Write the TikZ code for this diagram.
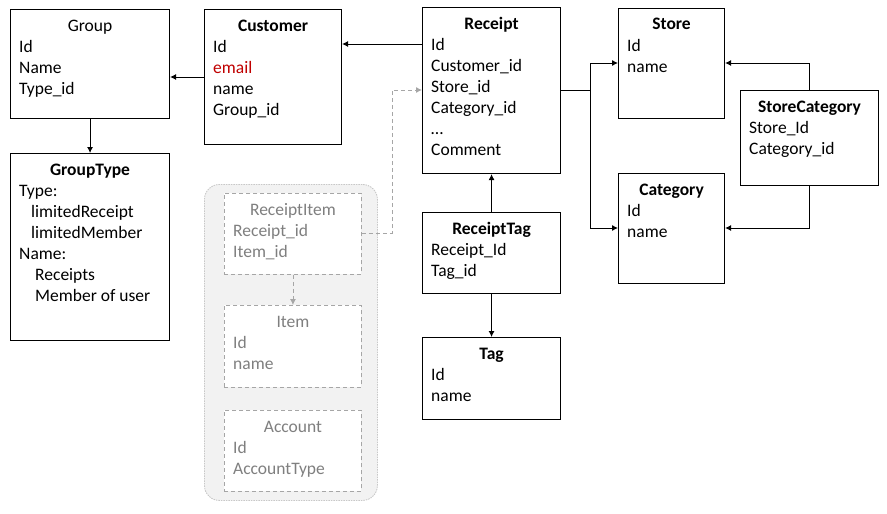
\documentclass[tikz,border=0pt]{standalone}
\usepackage{fontspec}
\setmainfont{Carlito}
\usetikzlibrary{arrows.meta}

\definecolor{fadegray}{HTML}{7F7F7F}
\definecolor{dashgray}{HTML}{A6A6A6}
\definecolor{framegray}{HTML}{C8C8C8}
\definecolor{panelgray}{HTML}{F2F2F2}
\definecolor{emailred}{HTML}{C00000}

% #1 style, #2 name, #3 x, #4 y, #5 width, #6 height, #7 title, #8 fields
\newcommand{\entity}[8]{%
  \node[#1,minimum width=#5,minimum height=#6,anchor=north west] (#2) at (#3,#4) {};
  \node[#1 text,anchor=base] (#2-title) at ([yshift=-22pt]#2.north) {#7};
  \foreach \fld [count=\i] in {#8}
    \node[#1 text,anchor=base west] (#2-\i) at ([xshift=9pt,yshift=-22pt-21pt*\i]#2.north west) {\fld};
}

\begin{document}
\begin{tikzpicture}[x=1pt,y=-1pt,
    every node/.style={inner sep=0pt,font=\fontsize{17.5pt}{21pt}\selectfont},
    box/.style={draw,line width=1.1pt,fill=white},
    box text/.style={},
    ghost/.style={draw=dashgray,line width=0.9pt,dash pattern=on 4pt off 3pt,fill=white},
    ghost text/.style={text=fadegray},
    link/.style={line width=0.9pt,-{Latex[length=6pt,width=6pt]}},
    ghost link/.style={draw=dashgray,line width=0.9pt,dash pattern=on 4pt off 3pt,-{Latex[length=6pt,width=6pt]}}]
    \useasboundingbox (0,0) rectangle (887,514);

    \node[draw=framegray,fill=panelgray,line width=0.9pt,dash pattern=on 1.5pt off 1pt,
          rounded corners=15pt,minimum width=173,minimum height=316,anchor=north west] (extras) at (204,184) {};

    \entity{box}{group}{10}{9}{159}{109}{Group}{Id,Name,Type\_id}
    \entity{box}{customer}{204}{9}{137}{135}{\textbf{Customer}}{Id,{\color{emailred}email},name,Group\_id}
    \entity{box}{receipt}{422}{7}{138}{166}{\textbf{Receipt}}{Id,Customer\_id,Store\_id,Category\_id,…,Comment}
    \entity{box}{store}{618}{8}{106}{110}{\textbf{Store}}{Id,name}
    \entity{box}{category}{618}{173}{106}{110}{\textbf{Category}}{Id,name}
    \entity{box}{storecat}{740}{90}{138}{95}{\textbf{StoreCategory}}{Store\_Id,Category\_id}
    \entity{box}{grouptype}{10}{153}{159}{187}{\textbf{GroupType}}{Type:,\hspace{12pt}limitedReceipt,\hspace{12pt}limitedMember,Name:,\hspace{16pt}Receipts,\hspace{16pt}Member of user}
    \entity{box}{receipttag}{422}{212}{138}{81}{\textbf{ReceiptTag}}{Receipt\_Id,Tag\_id}
    \entity{box}{tag}{422}{337}{138}{82}{\textbf{Tag}}{Id,name}
    \entity{ghost}{receiptitem}{224}{193}{137}{81}{ReceiptItem}{Receipt\_id,Item\_id}
    \entity{ghost}{item}{224}{305}{137}{82}{Item}{Id,name}
    \entity{ghost}{account}{224}{410}{137}{81}{Account}{Id,AccountType}

    \draw[link] (receipt.west |- 0,44) -- (customer.east |- 0,44);
    \draw[link] (customer.west |- 0,77) -- (group.east |- 0,77);
    \draw[link] (group.south) -- (grouptype.north);
    \draw[link] (receipttag.north) -- (receipt.south);
    \draw[link] (receipttag.south) -- (tag.north);

    \coordinate (fork) at (590,90);
    \draw[line width=0.9pt] (receipt.east |- fork) -- (fork);
    \draw[link] (fork) |- (store.west |- 0,63);
    \draw[link] (fork) |- (category.west |- 0,228);
    \draw[link] (storecat.north) |- (store.east |- 0,63);
    \draw[link] (storecat.south) |- (category.east |- 0,228);

    \coordinate (bend) at (392,90);
    \draw[ghost link] (receiptitem.east |- 0,233) -| (bend) -- (receipt.west |- bend);
    \draw[ghost link] (receiptitem.south) -- (item.north);
\end{tikzpicture}
\end{document}
